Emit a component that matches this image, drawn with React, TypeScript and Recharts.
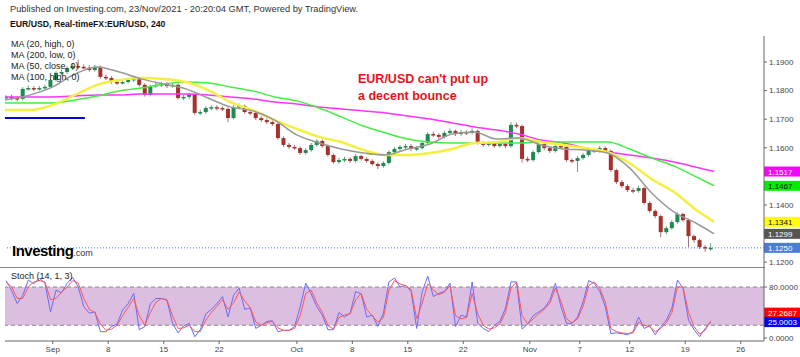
import React from 'react';
import { ComposedChart, Bar, Line, XAxis, YAxis, ReferenceLine, ReferenceArea } from 'recharts';

// 12h candles, EUR/USD, Aug 26 - Nov 23 2021
const OPEN = [
  1.1775, 1.1778, 1.1774, 1.1771, 1.1806, 1.1809, 1.1806, 1.1809, 1.1813, 1.1837,
  1.1862, 1.1865, 1.1879, 1.1886, 1.1883, 1.1880, 1.1872, 1.1883, 1.1848, 1.1844,
  1.1830, 1.1827, 1.1830, 1.1837, 1.1841, 1.1820, 1.1785, 1.1816, 1.1820, 1.1823,
  1.1816, 1.1820, 1.1774, 1.1778, 1.1785, 1.1722, 1.1725, 1.1739, 1.1742, 1.1739,
  1.1736, 1.1704, 1.1742, 1.1746, 1.1725, 1.1722, 1.1704, 1.1697, 1.1690, 1.1683,
  1.1634, 1.1610, 1.1603, 1.1599, 1.1582, 1.1592, 1.1610, 1.1624, 1.1606, 1.1575,
  1.1550, 1.1557, 1.1561, 1.1554, 1.1571, 1.1561, 1.1554, 1.1543, 1.1536, 1.1547,
  1.1585, 1.1596, 1.1603, 1.1606, 1.1596, 1.1599, 1.1617, 1.1648, 1.1645, 1.1638,
  1.1652, 1.1659, 1.1648, 1.1655, 1.1652, 1.1659, 1.1617, 1.1610, 1.1617, 1.1606,
  1.1613, 1.1606, 1.1680, 1.1676, 1.1561, 1.1557, 1.1585, 1.1613, 1.1599, 1.1589,
  1.1606, 1.1603, 1.1557, 1.1554, 1.1564, 1.1575, 1.1592, 1.1589, 1.1599, 1.1589,
  1.1522, 1.1480, 1.1466, 1.1452, 1.1449, 1.1459, 1.1407, 1.1379, 1.1361, 1.1305,
  1.1319, 1.1340, 1.1368, 1.1347, 1.1291, 1.1277, 1.1253, 1.1249,
];
const HIGH = [
  1.1784, 1.1786, 1.1780, 1.1812, 1.1818, 1.1815, 1.1816, 1.1820, 1.1843, 1.1868,
  1.1874, 1.1885, 1.1895, 1.1909, 1.1892, 1.1889, 1.1890, 1.1887, 1.1856, 1.1850,
  1.1838, 1.1837, 1.1845, 1.1848, 1.1846, 1.1826, 1.1822, 1.1828, 1.1831, 1.1830,
  1.1828, 1.1825, 1.1786, 1.1792, 1.1789, 1.1733, 1.1746, 1.1750, 1.1749, 1.1745,
  1.1741, 1.1750, 1.1755, 1.1751, 1.1733, 1.1728, 1.1710, 1.1703, 1.1696, 1.1688,
  1.1640, 1.1617, 1.1610, 1.1605, 1.1599, 1.1617, 1.1630, 1.1629, 1.1611, 1.1580,
  1.1565, 1.1569, 1.1567, 1.1578, 1.1576, 1.1567, 1.1560, 1.1549, 1.1553, 1.1591,
  1.1603, 1.1610, 1.1614, 1.1612, 1.1606, 1.1624, 1.1655, 1.1656, 1.1651, 1.1660,
  1.1668, 1.1664, 1.1662, 1.1661, 1.1668, 1.1664, 1.1624, 1.1624, 1.1622, 1.1620,
  1.1618, 1.1690, 1.1688, 1.1681, 1.1569, 1.1591, 1.1620, 1.1618, 1.1604, 1.1613,
  1.1612, 1.1608, 1.1563, 1.1571, 1.1582, 1.1599, 1.1600, 1.1607, 1.1605, 1.1594,
  1.1527, 1.1487, 1.1472, 1.1460, 1.1468, 1.1464, 1.1413, 1.1385, 1.1366, 1.1326,
  1.1347, 1.1374, 1.1373, 1.1352, 1.1297, 1.1282, 1.1260, 1.1266,
];
const LOW = [
  1.1768, 1.1766, 1.1762, 1.1766, 1.1800, 1.1798, 1.1800, 1.1803, 1.1808, 1.1832,
  1.1855, 1.1858, 1.1872, 1.1876, 1.1875, 1.1866, 1.1866, 1.1842, 1.1837, 1.1824,
  1.1820, 1.1821, 1.1824, 1.1831, 1.1814, 1.1779, 1.1780, 1.1810, 1.1813, 1.1809,
  1.1810, 1.1768, 1.1766, 1.1771, 1.1715, 1.1714, 1.1718, 1.1732, 1.1731, 1.1728,
  1.1690, 1.1699, 1.1735, 1.1719, 1.1714, 1.1697, 1.1690, 1.1683, 1.1676, 1.1628,
  1.1603, 1.1596, 1.1592, 1.1575, 1.1576, 1.1586, 1.1604, 1.1600, 1.1569, 1.1544,
  1.1543, 1.1550, 1.1547, 1.1548, 1.1555, 1.1547, 1.1537, 1.1526, 1.1530, 1.1541,
  1.1579, 1.1589, 1.1596, 1.1589, 1.1589, 1.1593, 1.1611, 1.1638, 1.1631, 1.1632,
  1.1645, 1.1641, 1.1642, 1.1645, 1.1646, 1.1611, 1.1603, 1.1604, 1.1600, 1.1600,
  1.1598, 1.1600, 1.1668, 1.1548, 1.1550, 1.1551, 1.1579, 1.1592, 1.1582, 1.1583,
  1.1597, 1.1550, 1.1546, 1.1515, 1.1558, 1.1569, 1.1582, 1.1583, 1.1582, 1.1515,
  1.1473, 1.1459, 1.1445, 1.1441, 1.1443, 1.1401, 1.1372, 1.1354, 1.1287, 1.1298,
  1.1313, 1.1334, 1.1341, 1.1253, 1.1268, 1.1246, 1.1236, 1.1240,
];
const CLOSE = [
  1.1778, 1.1774, 1.1771, 1.1806, 1.1809, 1.1806, 1.1809, 1.1813, 1.1837, 1.1862,
  1.1865, 1.1879, 1.1886, 1.1883, 1.1880, 1.1872, 1.1883, 1.1848, 1.1844, 1.1830,
  1.1827, 1.1830, 1.1837, 1.1841, 1.1820, 1.1785, 1.1816, 1.1820, 1.1823, 1.1816,
  1.1820, 1.1774, 1.1778, 1.1785, 1.1722, 1.1725, 1.1739, 1.1742, 1.1739, 1.1736,
  1.1704, 1.1742, 1.1746, 1.1725, 1.1722, 1.1704, 1.1697, 1.1690, 1.1683, 1.1634,
  1.1610, 1.1603, 1.1599, 1.1582, 1.1592, 1.1610, 1.1624, 1.1606, 1.1575, 1.1550,
  1.1557, 1.1561, 1.1554, 1.1571, 1.1561, 1.1554, 1.1543, 1.1536, 1.1547, 1.1585,
  1.1596, 1.1603, 1.1606, 1.1596, 1.1599, 1.1617, 1.1648, 1.1645, 1.1638, 1.1652,
  1.1659, 1.1648, 1.1655, 1.1652, 1.1659, 1.1617, 1.1610, 1.1617, 1.1606, 1.1613,
  1.1606, 1.1680, 1.1676, 1.1561, 1.1557, 1.1585, 1.1613, 1.1599, 1.1589, 1.1606,
  1.1603, 1.1557, 1.1554, 1.1564, 1.1575, 1.1592, 1.1589, 1.1599, 1.1589, 1.1522,
  1.1480, 1.1466, 1.1452, 1.1449, 1.1459, 1.1407, 1.1379, 1.1361, 1.1305, 1.1319,
  1.1340, 1.1368, 1.1347, 1.1291, 1.1277, 1.1253, 1.1249, 1.1250,
];

// moving averages, sampled every 2 trading days
const MA_T = [-0.3, 2, 4, 6, 8, 10, 12, 14, 16, 18, 20, 22, 24, 26, 28, 30, 32, 34, 36, 38, 40, 42, 44, 46, 48, 50, 52, 54, 56, 58, 60, 62, 63.6];
const MA20_HIGH = [
  1.1767, 1.1785, 1.1813, 1.1858, 1.1883, 1.1865, 1.1841, 1.1823, 1.1806, 1.1774, 1.1743,
  1.1729, 1.1697, 1.1645, 1.1617, 1.1596, 1.1582, 1.1575, 1.1596, 1.1613, 1.1648, 1.1655,
  1.1631, 1.1634, 1.1610, 1.1596, 1.1592, 1.1582, 1.1529, 1.1441, 1.1375, 1.1336, 1.1299,
];
const MA200_LOW = [
  1.1778, 1.1778, 1.1778, 1.1781, 1.1785, 1.1785, 1.1788, 1.1788, 1.1788, 1.1785, 1.1778,
  1.1771, 1.1760, 1.1753, 1.1743, 1.1736, 1.1729, 1.1722, 1.1711, 1.1701, 1.1687, 1.1673,
  1.1662, 1.1648, 1.1627, 1.1617, 1.1599, 1.1585, 1.1575, 1.1564, 1.1550, 1.1532, 1.1517,
];
const MA50_CLOSE = [
  1.1732, 1.1732, 1.1750, 1.1785, 1.1820, 1.1837, 1.1844, 1.1841, 1.1830, 1.1802, 1.1760,
  1.1732, 1.1697, 1.1666, 1.1638, 1.1620, 1.1592, 1.1575, 1.1575, 1.1582, 1.1596, 1.1617,
  1.1620, 1.1634, 1.1620, 1.1610, 1.1599, 1.1585, 1.1546, 1.1490, 1.1445, 1.1382, 1.1341,
];
const MA100_HIGH = [
  1.1757, 1.1757, 1.1757, 1.1767, 1.1781, 1.1799, 1.1809, 1.1823, 1.1830, 1.1827, 1.1813,
  1.1799, 1.1778, 1.1764, 1.1739, 1.1708, 1.1676, 1.1652, 1.1631, 1.1620, 1.1617, 1.1617,
  1.1617, 1.1617, 1.1620, 1.1620, 1.1620, 1.1620, 1.1596, 1.1564, 1.1536, 1.1498, 1.1467,
];

// Stoch (14, 1, 3)
const STOCH_K = [
  90, 74, 54, 67, 91, 85, 94, 86, 41, 75,
  71, 86, 95, 80, 49, 39, 41, 10, 10, 18,
  22, 44, 54, 70, 13, 18, 54, 62, 62, 59,
  23, 8, 19, 23, 2, 13, 38, 45, 54, 65,
  33, 67, 78, 45, 47, 15, 20, 26, 27, 10,
  12, 12, 18, 49, 86, 69, 49, 36, 13, 13,
  40, 33, 39, 73, 69, 33, 36, 18, 39, 88,
  94, 80, 83, 73, 15, 73, 97, 65, 70, 73,
  86, 18, 36, 33, 88, 23, 15, 10, 20, 26,
  47, 88, 88, 14, 22, 35, 41, 47, 59, 86,
  49, 23, 23, 33, 57, 90, 86, 73, 49, 7,
  8, 7, 5, 10, 33, 15, 19, 5, 18, 28,
  47, 91, 78, 28, 13, 2, 15, 25.0003,
];
const STOCH_D = [
  88, 80, 62, 62, 80, 88, 90, 88, 60, 62,
  72, 80, 90, 86, 62, 45, 40, 22, 12, 14,
  20, 35, 48, 62, 35, 20, 40, 56, 62, 60,
  35, 15, 16, 20, 10, 10, 28, 40, 50, 60,
  45, 55, 72, 58, 48, 25, 20, 24, 26, 16,
  12, 12, 15, 35, 70, 75, 55, 40, 20, 14,
  32, 36, 38, 60, 70, 45, 35, 25, 32, 75,
  90, 85, 82, 76, 30, 55, 85, 75, 68, 72,
  82, 35, 30, 32, 70, 38, 20, 14, 16, 22,
  40, 78, 88, 35, 22, 30, 38, 45, 55, 78,
  58, 30, 24, 30, 50, 82, 88, 78, 56, 15,
  10, 8, 7, 8, 25, 20, 18, 10, 15, 24,
  40, 80, 80, 40, 18, 6, 12, 27.2687,
];

const PRICE_TICKS = [1.12, 1.14, 1.16, 1.17, 1.18, 1.19];
const DATE_TICKS = [4, 9, 14, 19, 26, 31, 36, 41, 47, 51.5, 56, 61, 66];
const DATE_LABELS = ['Sep', '8', '15', '22', 'Oct', '8', '15', '22', 'Nov', '7', '12', '19', '26'];
const LAST_PRICE = 1.125;

// x = trading-day index, one candle every 12h
const candles = CLOSE.map((c, i) => ({ t: i * 0.5 - 0.2, open: OPEN[i], high: HIGH[i], low: LOW[i], close: c }));
const maRows = MA_T.map((t, i) => ({ t, ma20: MA20_HIGH[i], ma200: MA200_LOW[i], ma50: MA50_CLOSE[i], ma100: MA100_HIGH[i] }));
const stochRows = STOCH_K.map((k, i) => ({ t: i * 0.5 - 0.2, k, d: STOCH_D[i] }));

const X_DOMAIN = [-0.3, 68.1];
const FONT = '"Liberation Sans", Arial, Helvetica, sans-serif';

function Candle(props: any) {
  const { x, y, width, height, payload } = props;
  if (!payload || x == null || y == null) return null;
  const cx = x + width / 2;
  const top = Math.min(y, y + height);
  const span = Math.abs(height);
  const range = payload.high - payload.low || 1;
  const toY = (v: number) => top + ((payload.high - v) / range) * span;
  const up = payload.close >= payload.open;
  const col = up ? '#1f8a50' : '#a8302a';
  const yO = toY(payload.open);
  const yC = toY(payload.close);
  return (
    <g>
      <line x1={cx} x2={cx} y1={top} y2={top + span} stroke={up ? '#6f9f85' : '#9a7a76'} />
      <rect x={cx - 2} y={Math.min(yO, yC)} width={4} height={Math.max(1.5, Math.abs(yC - yO))} fill={col} />
    </g>
  );
}

function Tag(props: any) {
  const { viewBox, text, bg, color, dy = 0 } = props;
  if (!viewBox) return null;
  const x = viewBox.x + viewBox.width;
  const y = viewBox.y + dy;
  return (
    <g>
      <rect x={x} y={y - 5} width={36} height={10} fill={bg} />
      <text x={x + 4} y={y + 3} fontSize={8} fill={color} fontFamily={FONT}>{text}</text>
    </g>
  );
}

const fmtDate = (v: number) => {
  const i = DATE_TICKS.indexOf(v);
  return i >= 0 ? DATE_LABELS[i] : '';
};

export default function App() {
  return (
    <div style={{ position: 'relative', width: 800, height: 357, background: '#fff', fontFamily: FONT, overflow: 'hidden' }}>
      <style>{'body{margin:0}'}</style>

      <div style={{ position: 'absolute', left: 0, top: 0 }}>
        <ComposedChart width={800} height={268} data={candles} margin={{ top: 36, right: 0, left: 5, bottom: 1 }}>
          <XAxis type="number" dataKey="t" domain={X_DOMAIN} allowDataOverflow hide />
          <YAxis
            orientation="right"
            width={36}
            type="number"
            domain={[1.1183, 1.1991]}
            allowDataOverflow
            ticks={PRICE_TICKS}
            tickFormatter={(v: number) => v.toFixed(4)}
            axisLine={{ stroke: '#666' }}
            tickLine={{ stroke: '#666' }}
            tickSize={3}
            tick={{ fontSize: 8, fill: '#444', textAnchor: 'start' }}
          />
          <ReferenceLine
            segment={[{ x: -0.3, y: 1.1704 }, { x: 6.9, y: 1.1704 }]}
            stroke="#0000dd"
            strokeWidth={2}
            ifOverflow="visible"
          />
          <Bar dataKey={(d: any) => [d.low, d.high]} shape={<Candle />} barSize={4} isAnimationActive={false} />
          <Line data={maRows} dataKey="ma200" type="monotone" stroke="#ff33ff" strokeWidth={1.5} dot={false} isAnimationActive={false} />
          <Line data={maRows} dataKey="ma100" type="monotone" stroke="#44ee44" strokeWidth={1.5} dot={false} isAnimationActive={false} />
          <Line data={maRows} dataKey="ma50" type="monotone" stroke="#f4f040" strokeWidth={2.5} dot={false} isAnimationActive={false} />
          <Line data={maRows} dataKey="ma20" type="monotone" stroke="#999999" strokeWidth={1.5} dot={false} isAnimationActive={false} />
          <ReferenceLine y={LAST_PRICE} stroke="#4a78e0" strokeDasharray="1 2"
            label={<Tag text={LAST_PRICE.toFixed(4)} bg="#4a7be0" color="#fff" />} />
          <ReferenceLine y={MA200_LOW[MA200_LOW.length - 1]} stroke="none"
            label={<Tag text={MA200_LOW[MA200_LOW.length - 1].toFixed(4)} bg="#ff00ff" color="#fff" />} />
          <ReferenceLine y={MA100_HIGH[MA100_HIGH.length - 1]} stroke="none"
            label={<Tag text={MA100_HIGH[MA100_HIGH.length - 1].toFixed(4)} bg="#00ee00" color="#111" />} />
          <ReferenceLine y={MA50_CLOSE[MA50_CLOSE.length - 1]} stroke="none"
            label={<Tag text={MA50_CLOSE[MA50_CLOSE.length - 1].toFixed(4)} bg="#ffff00" color="#111" />} />
          <ReferenceLine y={MA20_HIGH[MA20_HIGH.length - 1]} stroke="none"
            label={<Tag text={MA20_HIGH[MA20_HIGH.length - 1].toFixed(4)} bg="#555555" color="#fff" />} />
        </ComposedChart>
      </div>

      <div style={{ position: 'absolute', left: 0, top: 267, width: 765, height: 1, background: '#888' }} />

      <div style={{ position: 'absolute', left: 0, top: 267 }}>
        <ComposedChart width={800} height={90} data={stochRows} margin={{ top: 0, right: 0, left: 5, bottom: 0 }}>
          <XAxis
            type="number"
            dataKey="t"
            domain={X_DOMAIN}
            allowDataOverflow
            ticks={DATE_TICKS}
            interval={0}
            tickFormatter={fmtDate}
            height={16}
            axisLine={{ stroke: '#666' }}
            tickLine={{ stroke: '#666' }}
            tickSize={3}
            tick={{ fontSize: 8, fill: '#444' }}
          />
          <YAxis
            orientation="right"
            width={36}
            type="number"
            domain={[-4.7, 111.4]}
            allowDataOverflow
            ticks={[0, 80]}
            tickFormatter={(v: number) => v.toFixed(4)}
            axisLine={{ stroke: '#666' }}
            tickLine={{ stroke: '#666' }}
            tickSize={3}
            tick={{ fontSize: 8, fill: '#444', textAnchor: 'start' }}
          />
          <ReferenceArea y1={20} y2={80} fill="#dcbfe0" fillOpacity={1} stroke="none" />
          <ReferenceLine y={80} stroke="#888" strokeDasharray="4 3" />
          <ReferenceLine y={20} stroke="#888" strokeDasharray="4 3" />
          <Line dataKey="k" type="linear" stroke="#6a6aff" strokeWidth={1} dot={false} isAnimationActive={false} />
          <Line dataKey="d" type="linear" stroke="#ff5555" strokeWidth={1} dot={false} isAnimationActive={false} />
          <ReferenceLine y={STOCH_D[STOCH_D.length - 1]} stroke="none"
            label={<Tag text={STOCH_D[STOCH_D.length - 1].toFixed(4)} bg="#ff0000" color="#fff" dy={-8} />} />
          <ReferenceLine y={STOCH_K[STOCH_K.length - 1]} stroke="none"
            label={<Tag text={STOCH_K[STOCH_K.length - 1].toFixed(4)} bg="#0000ff" color="#fff" />} />
        </ComposedChart>
      </div>

      <div style={{ position: 'absolute', left: 10, top: 4, fontSize: 9.3, color: '#333', whiteSpace: 'nowrap' }}>
        Published on Investing.com, 23/Nov/2021 - 20:20:04 GMT, Powered by TradingView.
      </div>
      <div style={{ position: 'absolute', left: 10, top: 19, fontSize: 8.7, fontWeight: 'bold', color: '#111', whiteSpace: 'nowrap' }}>
        EUR/USD, Real-timeFX:EUR/USD, 240
      </div>
      <div style={{ position: 'absolute', left: 11, top: 39, fontSize: 9, lineHeight: '11px', color: '#222', whiteSpace: 'nowrap' }}>
        <div>MA (20, high, 0)</div>
        <div>MA (200, low, 0)</div>
        <div>MA (50, close, 0)</div>
        <div>MA (100, high, 0)</div>
      </div>
      <div style={{ position: 'absolute', left: 358, top: 71, fontSize: 12.5, fontWeight: 'bold', lineHeight: '17px', color: '#e8131b', whiteSpace: 'nowrap' }}>
        <div>EUR/USD can't put up</div>
        <div>a decent bounce</div>
      </div>
      <div style={{ position: 'absolute', left: 12, top: 242, whiteSpace: 'nowrap', color: '#000' }}>
        <span style={{ fontSize: 15, fontWeight: 900, letterSpacing: -0.5 }}>Investing</span>
        <span style={{ fontSize: 9, color: '#333' }}>.com</span>
      </div>
      <div style={{ position: 'absolute', left: 11, top: 271, fontSize: 9, color: '#222', whiteSpace: 'nowrap' }}>
        Stoch (14, 1, 3)
      </div>
    </div>
  );
}
